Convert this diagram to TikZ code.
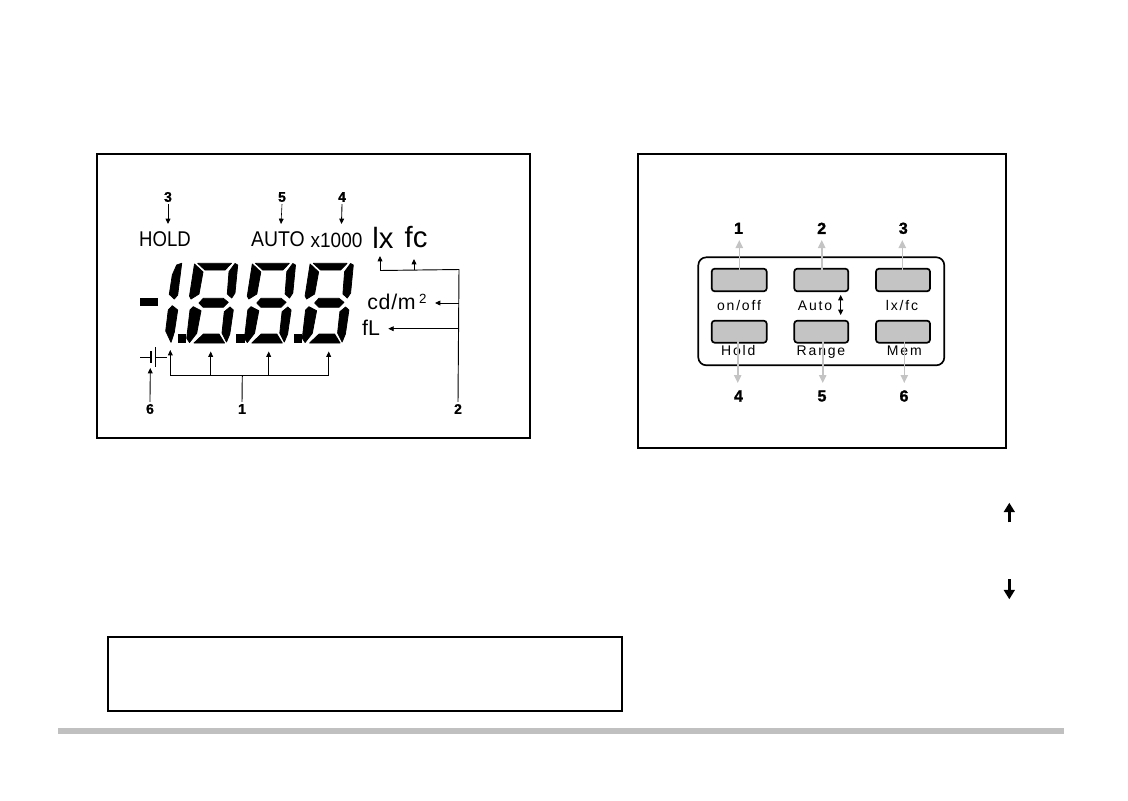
\documentclass[tikz,border=0pt]{standalone}
\usepackage{fontspec}
\setmainfont{Liberation Sans}
\usetikzlibrary{arrows.meta}
\definecolor{keygray}{HTML}{C4C4C4}
\definecolor{bargray}{HTML}{C0C0C0}
\tikzset{
  frame/.style={draw=black,line width=1.5pt,fill=none},
  seg/.style={fill=black,draw=black,line width=.6pt,line join=round},
  num/.style={font=\fontsize{10.5}{12}\selectfont\bfseries\addfontfeature{FakeBold=1},inner sep=1.5pt},
  knum/.style={font=\fontsize{12}{13}\selectfont\bfseries\addfontfeature{FakeBold=1.5},inner sep=1pt},
  lcd/.style={inner sep=0pt,font=\fontsize{16}{18}\selectfont\addfontfeature{FakeStretch=.89}},
  klab/.style={inner sep=0pt,anchor=base,font=\fontsize{10.5}{12}\selectfont\addfontfeature{LetterSpace=13}},
  lead/.style={draw=black,line width=.65pt,-{Triangle[length=4pt,width=3.6pt]}},
  thin lead/.style={lead,line width=.45pt},
  plain/.style={draw=black,line width=.7pt},
  keybtn/.style={draw=black,line width=1.25pt,fill=keygray,rounded corners=2.2pt},
  glead/.style={draw=keygray,line width=1.2pt,-{Triangle[length=6pt,width=5.5pt]}},
  bigarrow/.style={draw=black,line width=2pt,-{Triangle[length=7pt,width=8pt]}},
}
\newcommand{\lcddigit}[1]{%
  \begin{scope}[xshift=#1*0.75pt]
    \filldraw[seg] (197.7,263.3)--(231.5,263.3)--(225,270)--(205,270)--cycle;
    \filldraw[seg] (194.5,264)--(203,272)--(199,294)--(191,299)--(189.5,296)--cycle;
    \filldraw[seg] (235,263.5)--(237.7,265)--(235,293)--(231.7,298)--(227.3,294)--(229,271.7)--cycle;
    \filldraw[seg] (203.3,298.3)--(223.3,298.3)--(228.3,302.3)--(223.3,307.3)--(203.3,307.3)--(199,303)--cycle;
    \filldraw[seg] (193.3,306.7)--(201,310.7)--(196.7,333.3)--(189.5,342.5)--(186.7,338.3)--(190,310)--cycle;
    \filldraw[seg] (230,307)--(233.3,310)--(229.8,334)--(226.5,342)--(222,333)--(224.3,311.7)--cycle;
    \filldraw[seg] (203.5,334)--(219,334)--(224.5,343)--(194,343)--cycle;
  \end{scope}}
\begin{document}
\begin{tikzpicture}[x=0.75pt,y=-0.75pt]
\useasboundingbox (0,0) rectangle (1128,800);
% frames
\node[frame,minimum width=433*0.75pt,minimum height=284*0.75pt,inner sep=0pt] (lframe) at (313.5,296) {};
\node[frame,minimum width=368*0.75pt,minimum height=294*0.75pt,inner sep=0pt] (rframe) at (822,301) {};
\node[frame,minimum width=514*0.75pt,minimum height=74*0.75pt,inner sep=0pt] (note) at (365,674) {};
\fill[bargray] (58,728) rectangle (1064,734);
% LCD digits
\fill[black] (140,298.3) rectangle (158.3,306);
\filldraw[seg] (181.7,263.3)--(177.7,295)--(174.3,299)--(169.3,294.3)--(172.3,275)--(176.7,265)--cycle;
\filldraw[seg] (172.3,305.7)--(177.7,310)--(174.3,332.3)--(171,342.3)--(165.7,331)--(168.3,310)--cycle;
\fill[black] (178,333.5) rectangle (186,342.5);
\fill[black] (236,333.5) rectangle (244.5,342.5);
\fill[black] (293.5,333.5) rectangle (301.5,342.5);
\lcddigit{0}
\lcddigit{57.8}
\lcddigit{115.6}
% LCD labels
\node[lcd,font=\fontsize{16}{18}\selectfont\addfontfeature{FakeStretch=.87}] (hold) at (165,239.5) {HOLD};
\node[lcd,font=\fontsize{16}{18}\selectfont\addfontfeature{FakeStretch=.91}] (auto) at (278,239.5) {AUTO};
\node[lcd,font=\fontsize{15.5}{18}\selectfont\addfontfeature{FakeStretch=.92}] (x1000) at (336.5,240.5) {x1000};
\node[lcd,font=\fontsize{22}{24}\selectfont] (lx) at (383,237.5) {lx};
\node[lcd,font=\fontsize{22}{24}\selectfont] (fc) at (416,237.5) {fc};
\node[lcd,font=\fontsize{16}{18}\selectfont\addfontfeature{LetterSpace=3}] (cd) at (397,302) {cd/m\,{\fontsize{10}{10}\selectfont\raisebox{4.5pt}{2}}};
\node[lcd,font=\fontsize{16}{18}\selectfont] (fl) at (371,328) {fL};
% numbers
\node[num] (n3) at (168,197) {3};
\node[num] (n5) at (282,197) {5};
\node[num] (n4) at (342,197) {4};
\node[num] (n6) at (150,409) {6};
\node[num] (n1) at (242,409) {1};
\node[num] (n2) at (458,409) {2};
% leads top
\coordinate (a3) at (168,224);
\coordinate (a5) at (281,224);
\coordinate (a4) at (341.5,224);
\draw[lead] (n3.south) -- (a3);
\draw[thin lead] (n5.south) -- (a5);
\draw[lead] (n4.south) -- (a4);
% battery
\coordinate (bl) at (140.3,357.3);
\coordinate (bp1) at (151,357.3);
\coordinate (bp2) at (155.5,357.3);
\coordinate (br) at (167,357.3);
\draw[plain] (bl) -- (bp1);
\draw[plain] (bp2) -- (br);
\draw[draw=black,line width=1pt] (151,351) -- (151,363);
\draw[plain] (155.5,347) -- (155.5,367);
\coordinate (a6) at (150.3,368);
\draw[lead] (n6.north) -- (a6);
% tree 1
\coordinate (t1) at (242.3,375);
\coordinate (t1a) at (170.3,375);
\coordinate (t1b) at (210.7,375);
\coordinate (t1c) at (268.7,375);
\coordinate (t1d) at (328.7,375);
\coordinate (e1a) at (170.3,350);
\coordinate (e1b) at (210.7,351.5);
\coordinate (e1c) at (268.7,351.5);
\coordinate (e1d) at (328.7,351.5);
\draw[plain] (n1.north) -- (t1);
\draw[plain] (t1a) -- (t1d);
\draw[lead] (t1a) -- (e1a);
\draw[lead] (t1b) -- (e1b);
\draw[lead] (t1c) -- (e1c);
\draw[lead] (t1d) -- (e1d);
% tree 2
\coordinate (t2top) at (459,269.5);
\coordinate (t2lx) at (380,270.5);
\coordinate (t2fc) at (414,270);
\coordinate (e2lx) at (380,256);
\coordinate (e2fc) at (414,259);
\coordinate (t2cd) at (459,303);
\coordinate (e2cd) at (435,303);
\coordinate (t2fl) at (459,328.7);
\coordinate (e2fl) at (388.3,328.7);
\draw[plain] (n2.north) -- (t2top) -- (t2lx);
\draw[lead] (t2lx) -- (e2lx);
\draw[lead] (t2fc) -- (e2fc);
\draw[lead] (t2cd) -- (e2cd);
\draw[thin lead] (t2fl) -- (e2fl);
% keypad
\draw[draw=black,line width=1.25pt,rounded corners=6pt] (698.3,257.3) rectangle (944.3,365.3);
\node[keybtn,minimum width=55*0.75pt,minimum height=22.6*0.75pt,inner sep=0pt] (k1) at (739.2,280) {};
\node[keybtn,minimum width=54*0.75pt,minimum height=22.6*0.75pt,inner sep=0pt] (k2) at (821.3,280) {};
\node[keybtn,minimum width=54*0.75pt,minimum height=22.6*0.75pt,inner sep=0pt] (k3) at (903,280) {};
\node[keybtn,minimum width=55*0.75pt,minimum height=22*0.75pt,inner sep=0pt] (k4) at (739.2,331.7) {};
\node[keybtn,minimum width=54*0.75pt,minimum height=22*0.75pt,inner sep=0pt] (k5) at (821.3,331.7) {};
\node[keybtn,minimum width=54*0.75pt,minimum height=22*0.75pt,inner sep=0pt] (k6) at (903,331.7) {};
\node[klab] (lon) at (739,310.5) {on/off};
\node[klab] (lauto) at (815,310.5) {Auto};
\node[klab] (llx) at (902,310.5) {lx/fc};
\node[klab] (lhold) at (738.3,355.7) {Hold};
\node[klab] (lrange) at (821,355.7) {Range};
\node[klab] (lmem) at (904.3,355.7) {Mem};
\coordinate (au) at (840.7,295);
\coordinate (ad) at (840.7,315);
\draw[draw=black,line width=.8pt,{Triangle[length=4pt,width=3.8pt]}-{Triangle[length=4pt,width=3.8pt]}] (au) -- (ad);
\node[knum] (p1) at (738.5,228.3) {1};
\node[knum] (p2) at (821.7,228.3) {2};
\node[knum] (p3) at (903.3,228.3) {3};
\node[knum] (p4) at (738.5,396) {4};
\node[knum] (p5) at (822,396) {5};
\node[knum] (p6) at (904,396) {6};
\coordinate (s1) at (739.3,270);
\coordinate (s2) at (821.7,270);
\coordinate (s3) at (902.3,270);
\coordinate (s4) at (737.7,335);
\coordinate (s5) at (822.7,335);
\coordinate (s6) at (904.3,335);
\coordinate (g1) at (739.3,240);
\coordinate (g2) at (821.7,240);
\coordinate (g3) at (902.3,240);
\coordinate (g4) at (737.7,383);
\coordinate (g5) at (822.7,383);
\coordinate (g6) at (904.3,383);
\foreach \i in {1,...,6} \draw[glead] (s\i) -- (g\i);
% free arrows
\coordinate (u1) at (1009.3,522.3);
\coordinate (u2) at (1009.3,502.7);
\coordinate (d1) at (1009.3,579.3);
\coordinate (d2) at (1009.3,599.3);
\draw[bigarrow] (u1) -- (u2);
\draw[bigarrow] (d1) -- (d2);
\end{tikzpicture}
\end{document}
